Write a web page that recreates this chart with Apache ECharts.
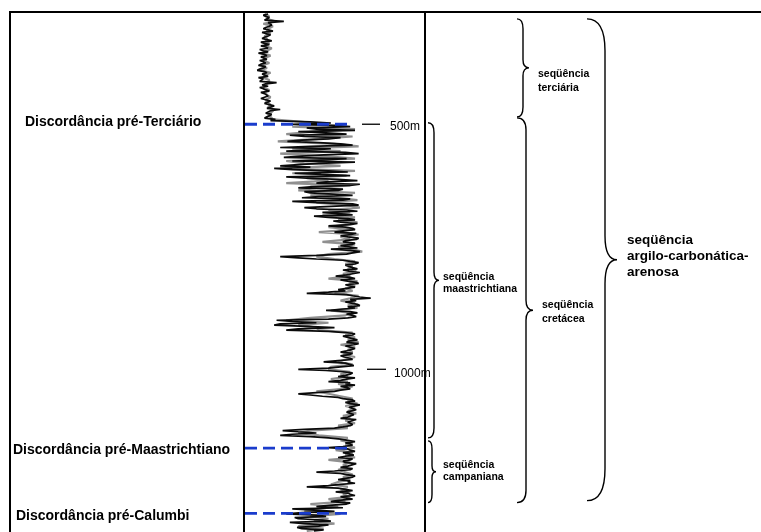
<!DOCTYPE html>
<html>
<head>
<meta charset="utf-8">
<script src="https://cdn.jsdelivr.net/npm/echarts@6/dist/echarts.min.js"></script>
<style>
html, body { margin: 0; padding: 0; background: #fff; }
#chart { width: 761px; height: 532px; }
</style>
</head>
<body>
<div id="chart"></div>
<script>
// Gamma-ray style well log; both curves start at TOP_DEPTH (m).
const TOP_DEPTH = 275;
const STEP_MAIN = 2.5;   // sampling of the main curve (m)
const STEP_AUX = 5;      // sampling of the companion curve (m)

// Main curve (black), 275 m .. 1330 m
const logMain = [
  // tertiary section
  20,16,18,21,22,17,33,20,19,23, 21,18,16,20,24,15,18,22,20,17,
  15,19,23,14,17,21,14,18,20,13, 16,20,12,17,19,14,15,19,13,16,
  18,14,12,18,16,13,11,17,19,15, 14,20,12,16,17,13,27,18,15,20,
  13,16,18,21,14,17,16,20,19,14, 15,22,21,17,18,25,24,19,30,22,
  20,18,23,21,19,17,26,22,55,72,
  // 500 .. 772.5 m
  40,75,88,52,60,92,45,68,85,38, 50,80,70,48,36,62,80,90,55,30,
  72,58,35,84,95,66,48,33,85,70, 40,92,62,45,30,55,25,40,70,86,
  42,64,88,35,52,78,94,68,60,96, 88,55,45,82,78,50,55,74,90,62,
  48,88,82,40,60,90,95,72,50,60, 85,94,65,78,90,58,70,86,92,74,
  80,94,88,70,84,90,92,82,75,93, 89,80,86,95,93,84,82,92,90,80,
  87,94,72,88,96,90,85,60,30,45,
  // 775 .. 1002.5 m
  60,82,88,95,92,84,85,90,94,82, 87,96,90,85,76,88,92,80,86,93,
  95,84,88,92,91,78,84,70,52,85, 90,96,105,88,93,84,89,94,96,86,
  92,80,68,88,94,85,90,93,86,70, 27,40,60,30,25,52,75,45,35,70,
  84,92,90,82,86,90,94,87,85,95, 91,84,83,92,89,85,80,90,87,80,
  83,88,90,78,66,84,85,91,80,70, 45,68,
  // 1005 .. 1330 m
  82,90,88,84,78,92,85,80,70,88, 84,92,80,86,88,80,75,60,45,55,
  65,78,82,90,92,84,88,96,95,87, 86,93,93,85,84,91,90,86,80,93,
  92,86,85,90,88,82,75,50,32,45, 60,40,30,55,70,80,86,92,84,88,
  90,82,70,86,88,92,82,87,91,84, 78,90,88,82,84,93,92,86,80,90,
  88,75,60,80,85,92,90,84,78,88, 86,92,80,70,52,78,84,90,76,86,
  88,92,80,84,90,78,72,88,85,70, 60,82,40,58,75,48,35,60,68,42,
  45,65,72,38,50,70,62,44,48,66, 58
];

// Companion curve (grey), 275 m .. 1330 m
const logAux = [
  17,21,19,26,16,24,20,19,22,17,19,18,21,17,23,19,15,22,17,16,21,15,19,14,22,17,16,21,20,18,16,21,17,19,22,18,19,22,20,25,23,20,22,24,48,
  70,40,92,58,35,90,62,28,75,95,40,80,30,68,92,35,50,80,30,92,40,85,52,70,35,88,60,45,92,55,78,94,60,85,96,70,88,65,92,78,94,85,70,90,62,95,80,88,65,92,78,90,98,70,60,
  75,92,84,90,86,93,82,88,70,94,87,92,84,90,75,95,88,80,92,86,94,72,88,84,55,35,70,45,60,62,90,84,92,86,95,80,92,86,90,82,92,84,78,90,72,70,
  88,80,86,72,86,78,90,82,60,70,80,90,86,94,84,92,86,93,82,88,84,92,78,86,55,45,62,86,80,90,84,92,76,90,84,92,70,88,82,86,78,84,90,82,88,78,72,86,80,88,82,88,70,84,55,78,62,50,80,55,70,58,75,45,66,52
];

// Depth marks
const depthTicks = [500, 1000];
const depthTickLabels = ['500m', '1000m'];

// Unconformities
const discNames = ['Discordância pré-Terciário', 'Discordância pré-Maastrichtiano', 'Discordância pré-Calumbi'];
const discDepths = [500, 1161, 1294];

// Sequences (top / base depth in metres)
const seqNames = [
  'seqüência\nterciária',
  'seqüência\ncretácea',
  'seqüência\nmaastrichtiana',
  'seqüência\ncampaniana',
  'seqüência\nargilo-carbonática-\narenosa'
];
const seqTop = [285, 487, 497, 1146, 285];
const seqBase = [485, 1272, 1140, 1272, 1268];

// ---- layout / style (pixels) ----
const FONT = '"Liberation Sans", Arial, sans-serif';
const TRACK = { left: 244, top: 12, width: 181, height: 520 };
const tickStyle = [
  { x1: 362, x2: 380, tx: 390, dy: 2 },
  { x1: 367, x2: 386, tx: 394, dy: 4 }
];
const discStyle = [
  { tx: 25, dy: -2, x2: 349 },
  { tx: 13, dy: 2, x2: 350 },
  { tx: 16, dy: 3, x2: 347 }
];
const braceStyle = [
  { x0: 517, xs: 523, xt: 529, rv: 10, rt: 8, tx: 538, dy: 13, size: 10.5, lh: 14 },
  { x0: 517, xs: 526, xt: 533, rv: 12, rt: 10, tx: 542, dy: 2, size: 10.5, lh: 14 },
  { x0: 428, xs: 434, xt: 439, rv: 10, rt: 8, tx: 443, dy: 3, size: 10.5, lh: 12 },
  { x0: 428, xs: 432, xt: 436, rv: 8, rt: 6, tx: 443, dy: -1, size: 10.5, lh: 12 },
  { x0: 587, xs: 605, xt: 617, rv: 32, rt: 24, tx: 627, dy: -3, size: 13.5, lh: 16 }
];

const mainPts = logMain.map((v, i) => [v, TOP_DEPTH + i * STEP_MAIN]);
const auxPts = logAux.map((v, i) => [v, TOP_DEPTH + i * STEP_AUX]);

function textEl(x, y, text, font, align, vAlign, lineHeight) {
  return {
    type: 'text',
    style: {
      x: x, y: y, text: text, font: font, fill: '#000',
      align: align, verticalAlign: vAlign,
      textAlign: align, textVerticalAlign: vAlign,
      lineHeight: lineHeight
    }
  };
}

function bracePath(s, yTop, yBot) {
  const yMid = (yTop + yBot) / 2;
  return 'M' + s.x0 + ',' + yTop +
    ' Q' + s.xs + ',' + yTop + ' ' + s.xs + ',' + (yTop + s.rv) +
    ' L' + s.xs + ',' + (yMid - s.rt) +
    ' Q' + s.xs + ',' + yMid + ' ' + s.xt + ',' + yMid +
    ' Q' + s.xs + ',' + yMid + ' ' + s.xs + ',' + (yMid + s.rt) +
    ' L' + s.xs + ',' + (yBot - s.rv) +
    ' Q' + s.xs + ',' + yBot + ' ' + s.x0 + ',' + yBot;
}

const chart = echarts.init(document.getElementById('chart'), null, { renderer: 'canvas' });

const trackRight = TRACK.left + TRACK.width;

chart.setOption({
  animation: false,
  backgroundColor: '#fff',
  graphic: [
    { // outer frame
      type: 'polyline',
      shape: { points: [[10, 540], [10, 12], [770, 12]] },
      style: { stroke: '#000', lineWidth: 2, fill: null },
      z: 100
    },
    { // log track sides
      type: 'polyline',
      shape: { points: [[TRACK.left, 540], [TRACK.left, TRACK.top], [trackRight, TRACK.top], [trackRight, 540]] },
      style: { stroke: '#000', lineWidth: 2, fill: null },
      z: 100
    }
  ],
  grid: {
    left: TRACK.left, top: TRACK.top, width: TRACK.width, height: TRACK.height,
    show: false
  },
  xAxis: { type: 'value', min: 0, max: 150, show: false },
  yAxis: { type: 'value', min: 271, max: 1332, inverse: true, show: false },
  series: [
    {
      name: 'aux', type: 'line', data: auxPts, showSymbol: false, smooth: false, sampling: null,
      lineStyle: { color: '#909090', width: 2.2 }, z: 2, silent: true
    },
    {
      name: 'main', type: 'line', data: mainPts, showSymbol: false, smooth: false, sampling: null,
      lineStyle: { color: '#0a0a0a', width: 1.7 }, z: 3, silent: true
    },
    {
      name: 'ticks', type: 'custom', clip: false, z: 5,
      data: depthTicks.map(d => [0, d]),
      renderItem: function (params, api) {
        const i = params.dataIndex;
        const s = tickStyle[i];
        const y = api.coord([0, api.value(1)])[1];
        return {
          type: 'group',
          children: [
            { type: 'line', shape: { x1: s.x1, y1: y, x2: s.x2, y2: y }, style: { stroke: '#000', lineWidth: 1.3 } },
            textEl(s.tx, y + s.dy, depthTickLabels[i], '12px ' + FONT, 'left', 'middle')
          ]
        };
      }
    },
    {
      name: 'discordances', type: 'custom', clip: false, z: 6,
      data: discDepths.map(d => [0, d]),
      renderItem: function (params, api) {
        const i = params.dataIndex;
        const s = discStyle[i];
        const p = api.coord([0, api.value(1)]);
        const y = p[1];
        return {
          type: 'group',
          children: [
            { type: 'line', shape: { x1: p[0] + 1, y1: y, x2: s.x2, y2: y },
              style: { stroke: '#1a3ccc', lineWidth: 2.8, lineDash: [12, 6] } },
            textEl(s.tx, y + s.dy, discNames[i], 'bold 14px ' + FONT, 'left', 'middle')
          ]
        };
      }
    },
    {
      name: 'sequences', type: 'custom', clip: false, z: 6,
      data: seqTop.map((t, i) => [t, seqBase[i]]),
      renderItem: function (params, api) {
        const i = params.dataIndex;
        const s = braceStyle[i];
        const yTop = api.coord([0, api.value(0)])[1];
        const yBot = api.coord([0, api.value(1)])[1];
        const yMid = (yTop + yBot) / 2;
        return {
          type: 'group',
          children: [
            { type: 'path', shape: { pathData: bracePath(s, yTop, yBot) },
              style: { stroke: '#000', lineWidth: 1.4, fill: null } },
            textEl(s.tx, yMid + s.dy, seqNames[i], 'bold ' + s.size + 'px ' + FONT, 'left', 'middle', s.lh)
          ]
        };
      }
    }
  ]
});
</script>
</body>
</html>
